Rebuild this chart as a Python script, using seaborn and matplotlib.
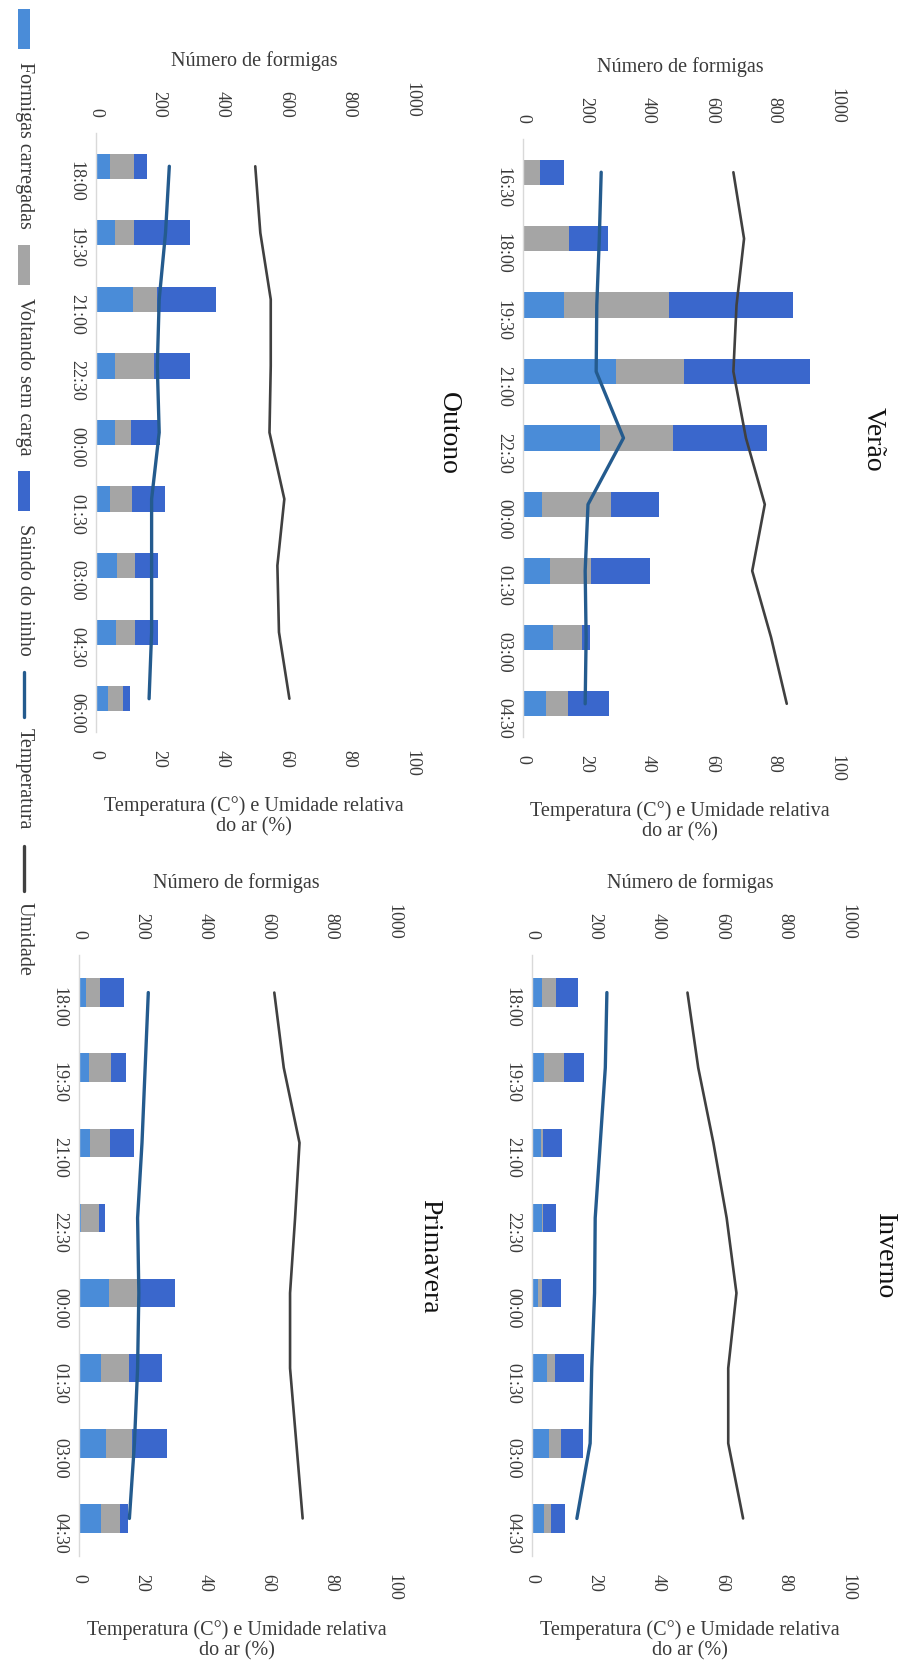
import numpy as np
import matplotlib
matplotlib.use("Agg")
import matplotlib.pyplot as plt
import seaborn as sns
from matplotlib.patches import Rectangle
from matplotlib.lines import Line2D

# ---- Verão ----
horas_verao = ["16:30", "18:00", "19:30", "21:00", "22:30", "00:00", "01:30", "03:00", "04:30"]
carregadas_verao = [0, 0, 132, 297, 246, 60, 87, 95, 74]
voltando_verao = [55, 148, 332, 216, 231, 220, 129, 93, 68]
saindo_verao = [74, 124, 396, 400, 301, 153, 187, 26, 131]
temp_verao = [24.9, 24.3, 23.5, 23.3, 32.0, 20.7, 19.8, 20.1, 19.8]
umid_verao = [67, 70.4, 68, 67, 71, 77, 73, 79, 84]

# ---- Inverno ----
horas_inverno = ["18:00", "19:30", "21:00", "22:30", "00:00", "01:30", "03:00", "04:30"]
carregadas_inverno = [32, 39, 30, 32, 18, 47, 53, 37]
voltando_inverno = [45, 61, 5, 3, 14, 27, 39, 24]
saindo_inverno = [67, 65, 60, 40, 60, 91, 69, 45]
temp_inverno = [23.7, 23.2, 21.6, 20.0, 19.8, 18.9, 18.4, 14.2]
umid_inverno = [49.2, 52.6, 57.4, 61.6, 64.7, 62.1, 62.1, 66.8]

# ---- Outono ----
horas_outono = ["18:00", "19:30", "21:00", "22:30", "00:00", "01:30", "03:00", "04:30", "06:00"]
carregadas_outono = [44, 60, 116, 60, 60, 44, 66, 63, 39]
voltando_outono = [75, 61, 77, 122, 50, 71, 58, 61, 48]
saindo_outono = [42, 177, 188, 116, 91, 104, 72, 73, 21]
temp_outono = [23.2, 22.0, 20.0, 19.4, 20.0, 17.6, 17.6, 17.6, 16.8]
umid_outono = [50.4, 52.0, 55.3, 55.3, 54.9, 59.6, 57.4, 57.9, 61.2]

# ---- Primavera ----
horas_primavera = ["18:00", "19:30", "21:00", "22:30", "00:00", "01:30", "03:00", "04:30"]
carregadas_primavera = [21, 32, 34, 7, 95, 71, 87, 69]
voltando_primavera = [47, 71, 63, 56, 92, 88, 82, 62]
saindo_primavera = [75, 45, 77, 19, 117, 104, 111, 24]
temp_primavera = [22.0, 21.0, 20.0, 18.6, 19.0, 18.6, 17.6, 16.0]
umid_primavera = [62, 65, 70, 68.6, 67, 67, 69, 71]

series_legenda = ["Formigas carregadas", "Voltando sem carga", "Saindo do ninho", "Temperatura", "Umidade"]

COR_CARREGADAS = "#4A8CD8"
COR_VOLTANDO = "#A5A5A5"
COR_SAINDO = "#3A67CC"
COR_TEMP = "#245B8E"
COR_UMID = "#404040"
COR_TEXTO = "#3A3A3A"

sns.set_theme(style="white")
plt.rcParams["font.family"] = ["Liberation Serif", "DejaVu Serif"]

W, H = 898, 1674
fig = plt.figure(figsize=(W / 100, H / 100), dpi=100)
fig.patch.set_facecolor("white")

BAR_H = 0.38


def painel(rect_px, titulo, horas, carregadas, voltando, saindo, temp, umid):
    x0, y_top, x1, y_bot = rect_px
    ax = fig.add_axes([x0 / W, 1 - y_bot / H, (x1 - x0) / W, (y_bot - y_top) / H])
    pos = np.arange(len(horas))
    c = np.asarray(carregadas, dtype=float)
    v = np.asarray(voltando, dtype=float)
    s = np.asarray(saindo, dtype=float)
    ax.barh(pos, c, height=BAR_H, color=COR_CARREGADAS, linewidth=0)
    ax.barh(pos, v, left=c, height=BAR_H, color=COR_VOLTANDO, linewidth=0)
    ax.barh(pos, s, left=c + v, height=BAR_H, color=COR_SAINDO, linewidth=0)

    ax2 = ax.twiny()
    sns.lineplot(x=temp, y=pos, orient="y", sort=False, estimator=None,
                 ax=ax2, color=COR_TEMP, linewidth=2.4)
    sns.lineplot(x=umid, y=pos, orient="y", sort=False, estimator=None,
                 ax=ax2, color=COR_UMID, linewidth=1.9)

    ax.set_xlim(0, 1000)
    ax.set_xticks(range(0, 1001, 200))
    ax2.set_xlim(0, 100)
    ax2.set_xticks(range(0, 101, 20))
    ax.set_ylim(len(horas) - 0.5, -0.5)
    ax.set_yticks(pos)
    ax.set_yticklabels(horas)
    ax2.set_ylabel("")

    # count axis on top, climate axis at the bottom
    ax.xaxis.tick_top()
    ax.xaxis.set_label_position("top")
    ax2.xaxis.tick_bottom()
    ax2.xaxis.set_label_position("bottom")

    ax.tick_params(axis="x", length=0, pad=12, labelrotation=-90,
                   labelsize=13, labelcolor=COR_TEXTO)
    ax.tick_params(axis="y", length=0, pad=8, labelrotation=-90,
                   labelsize=13, labelcolor=COR_TEXTO)
    ax2.tick_params(axis="x", length=0, pad=12, labelrotation=-90,
                    labelsize=13, labelcolor=COR_TEXTO)

    ax.set_xlabel("Número de formigas", fontsize=14.5, color=COR_TEXTO, labelpad=11)
    ax2.set_xlabel("Temperatura (C°) e Umidade relativa\ndo ar (%)", fontsize=14.5,
                   color=COR_TEXTO, labelpad=14, linespacing=1.1)

    for sp in ax.spines.values():
        sp.set_visible(False)
    for sp in ax2.spines.values():
        sp.set_visible(False)
    ax.spines["left"].set_visible(True)
    ax.spines["left"].set_color("#D9D9D9")
    ax.spines["left"].set_linewidth(1.0)
    ax.grid(False)
    ax2.grid(False)
    ax2.patch.set_visible(False)

    ax.annotate(titulo, xy=(1, 0.5), xycoords="axes fraction",
                xytext=(26, 0), textcoords="offset points",
                rotation=-90, ha="center", va="center",
                fontsize=20, color="#111111")
    return ax


painel((523, 140, 837, 738), "Verão", horas_verao, carregadas_verao,
       voltando_verao, saindo_verao, temp_verao, umid_verao)
painel((532, 956, 848, 1557), "Inverno", horas_inverno, carregadas_inverno,
       voltando_inverno, saindo_inverno, temp_inverno, umid_inverno)
painel((96, 134, 412, 733), "Outono", horas_outono, carregadas_outono,
       voltando_outono, saindo_outono, temp_outono, umid_outono)
painel((79, 956, 394, 1557), "Primavera", horas_primavera, carregadas_primavera,
       voltando_primavera, saindo_primavera, temp_primavera, umid_primavera)

# ---- legend column along the left edge ----
renderer = fig.canvas.get_renderer()
estilos = [("patch", COR_CARREGADAS), ("patch", COR_VOLTANDO), ("patch", COR_SAINDO),
           ("line", COR_TEMP), ("line", COR_UMID)]
xc = 24
y = 10
for rotulo, (tipo, cor) in zip(series_legenda, estilos):
    if tipo == "patch":
        fig.add_artist(Rectangle(((xc - 6) / W, 1 - (y + 40) / H), 12 / W, 40 / H,
                                 transform=fig.transFigure, color=cor, linewidth=0))
        y_txt = y + 52
    else:
        fig.add_artist(Line2D([xc / W, xc / W], [1 - y / H, 1 - (y + 45) / H],
                              transform=fig.transFigure, color=cor, linewidth=2.4))
        y_txt = y + 55
    t = fig.text(xc / W, 1 - y_txt / H, rotulo, rotation=-90, ha="center", va="top",
                 fontsize=14.5, color=COR_TEXTO)
    bb = t.get_window_extent(renderer)
    y = (H - bb.y0) + 17

fig.savefig("out.png", dpi=100, facecolor="white")
